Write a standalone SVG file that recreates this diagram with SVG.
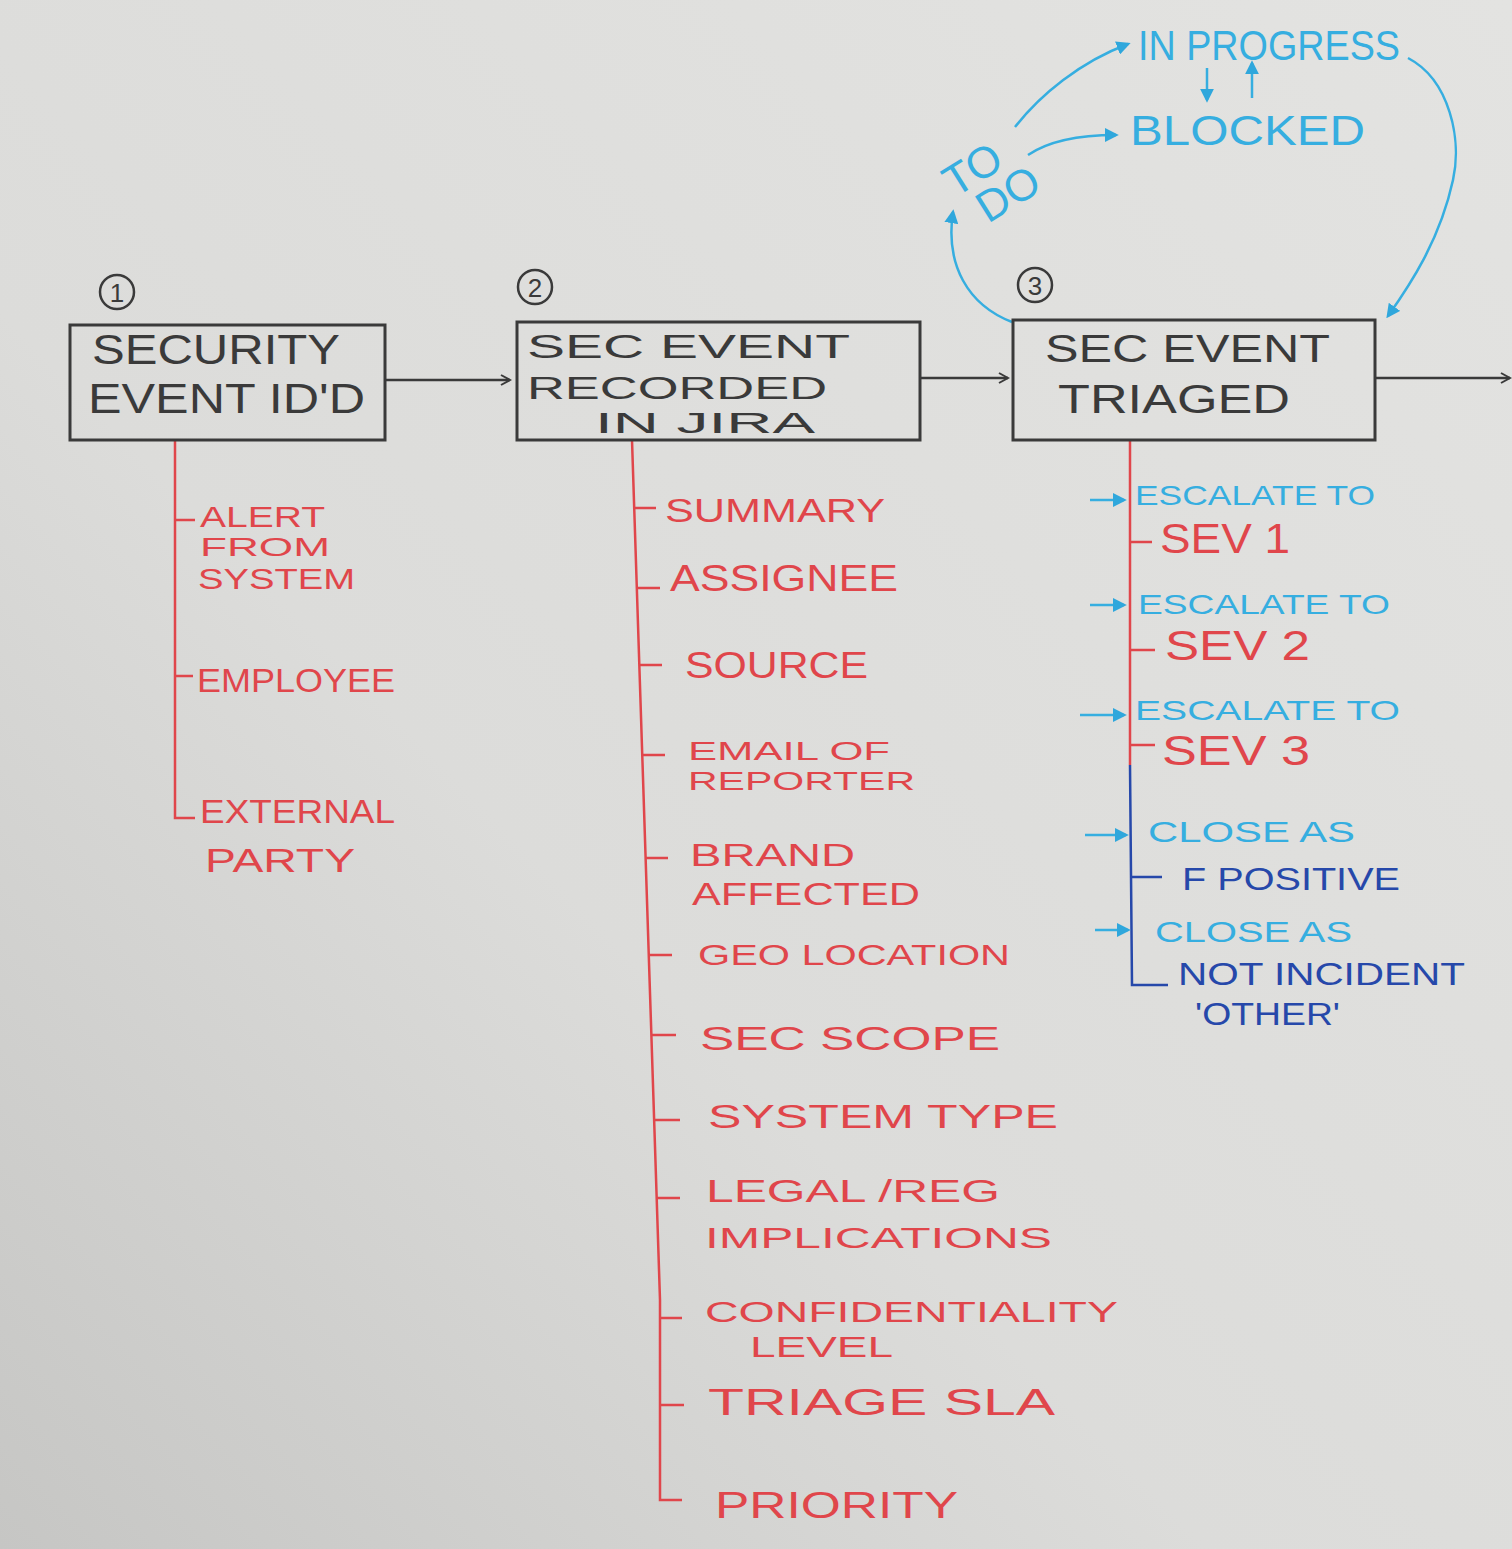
<svg xmlns="http://www.w3.org/2000/svg" width="1512" height="1549" viewBox="0 0 1512 1549">
<defs>
<linearGradient id="bg" x1="1" y1="0" x2="0" y2="1">
<stop offset="0" stop-color="#e3e3e1"/>
<stop offset="0.6" stop-color="#dcdcda"/>
<stop offset="1" stop-color="#c6c6c4"/>
</linearGradient>
<marker id="ab" viewBox="0 0 12 12" refX="10" refY="6" markerWidth="12" markerHeight="12" markerUnits="userSpaceOnUse" orient="auto">
<path d="M1,1 L10,6 L1,11" fill="none" stroke="#3a3a3a" stroke-width="2"/>
</marker>
<marker id="al" viewBox="0 0 10 10" refX="8" refY="5" markerWidth="14" markerHeight="14" markerUnits="userSpaceOnUse" orient="auto">
<path d="M0,0 L10,5 L0,10 Z" fill="#2fa7dc"/>
</marker>
</defs>
<style>
.t{font-family:"Liberation Sans","DejaVu Sans",sans-serif}
.k{fill:#3a3a3a}
.r{fill:#e0464b}
.lb{fill:#36aee0}
.db{fill:#2648aa}
.box{fill:none;stroke:#3a3a3a;stroke-width:3}
.ln{fill:none;stroke:#3a3a3a;stroke-width:2.5}
.rl{fill:none;stroke:#e0464b;stroke-width:2.5}
.bl{fill:none;stroke:#2648aa;stroke-width:2.5}
.cl{fill:none;stroke:#36aee0;stroke-width:2.5}
.num{fill:none;stroke:#3a3a3a;stroke-width:2.5}
</style>
<rect width="1512" height="1549" fill="url(#bg)"/>

<g id="connectors">
<line class="ln" x1="385" y1="380" x2="510" y2="380" marker-end="url(#ab)"/>
<line class="ln" x1="920" y1="378" x2="1008" y2="378" marker-end="url(#ab)"/>
<line class="ln" x1="1375" y1="378" x2="1510" y2="378" marker-end="url(#ab)"/>
<path class="cl" d="M1015,127 C1040,95 1080,62 1128,44" marker-end="url(#al)"/>
<path class="cl" d="M1028,155 C1050,140 1080,135 1116,135" marker-end="url(#al)"/>
<path class="cl" d="M1207,68 L1207,100" marker-end="url(#al)"/>
<path class="cl" d="M1252,98 L1252,63" marker-end="url(#al)"/>
<path class="cl" d="M1408,58 C1450,80 1462,140 1453,180 C1440,240 1410,285 1388,316" marker-end="url(#al)"/>
<path class="cl" d="M1012,322 C968,305 945,265 953,212" marker-end="url(#al)"/>
<path class="rl" d="M175,440 L175,818 L195,818 M175,520 L195,520 M175,676 L193,676"/>
<path class="rl" d="M632,440 L660,1300 L660,1500 L682,1500 M634,508 L656,508 M637,588 L660,588 M639,665 L662,665 M642,755 L665,755 M646,858 L668,858 M649,955 L672,955 M651,1035 L676,1035 M654,1120 L680,1120 M657,1198 L680,1198 M660,1318 L682,1318 M660,1405 L684,1405"/>
<path class="rl" d="M1130,440 L1130,765 M1130,542 L1152,542 M1130,650 L1155,650 M1130,745 L1155,745"/>
<path class="bl" d="M1130,765 L1132,985 L1168,985 M1132,877 L1162,877"/>
<line class="cl" x1="1090" y1="500" x2="1124" y2="500" marker-end="url(#al)"/>
<line class="cl" x1="1090" y1="605" x2="1124" y2="605" marker-end="url(#al)"/>
<line class="cl" x1="1080" y1="715" x2="1124" y2="715" marker-end="url(#al)"/>
<line class="cl" x1="1085" y1="835" x2="1126" y2="835" marker-end="url(#al)"/>
<line class="cl" x1="1095" y1="930" x2="1128" y2="930" marker-end="url(#al)"/>
</g>

<g id="node1">
<circle class="num" cx="117" cy="292" r="17"/>
<text class="t k" x="117" y="302" font-size="26" text-anchor="middle">1</text>
<rect class="box" x="70" y="325" width="315" height="115"/>
<text class="t k" x="92" y="364" font-size="42" textLength="248" lengthAdjust="spacingAndGlyphs">SECURITY</text>
<text class="t k" x="88" y="413" font-size="42" textLength="277" lengthAdjust="spacingAndGlyphs">EVENT ID'D</text>
</g>
<g id="node2">
<circle class="num" cx="535" cy="287" r="17"/>
<text class="t k" x="535" y="297" font-size="26" text-anchor="middle">2</text>
<rect class="box" x="517" y="322" width="403" height="118"/>
<text class="t k" x="527" y="358" font-size="34" textLength="323" lengthAdjust="spacingAndGlyphs">SEC EVENT</text>
<text class="t k" x="527" y="399" font-size="32" textLength="300" lengthAdjust="spacingAndGlyphs">RECORDED</text>
<text class="t k" x="595" y="433" font-size="30" textLength="220" lengthAdjust="spacingAndGlyphs">IN JIRA</text>
</g>
<g id="node3">
<circle class="num" cx="1035" cy="285" r="17"/>
<text class="t k" x="1035" y="295" font-size="26" text-anchor="middle">3</text>
<rect class="box" x="1013" y="320" width="362" height="120"/>
<text class="t k" x="1045" y="362" font-size="38" textLength="285" lengthAdjust="spacingAndGlyphs">SEC EVENT</text>
<text class="t k" x="1058" y="413" font-size="40" textLength="232" lengthAdjust="spacingAndGlyphs">TRIAGED</text>
</g>

<g id="workflow">
<text class="t lb" x="1138" y="60" font-size="42" textLength="262" lengthAdjust="spacingAndGlyphs">IN PROGRESS</text>
<text class="t lb" x="1130" y="145" font-size="42" textLength="235" lengthAdjust="spacingAndGlyphs">BLOCKED</text>
<text class="t lb" font-size="44" transform="translate(955,198) rotate(-32)">TO</text>
<text class="t lb" font-size="44" transform="translate(988,224) rotate(-32)">DO</text>
</g>

<g id="tree1">
<text class="t r" x="200" y="527" font-size="30" textLength="125" lengthAdjust="spacingAndGlyphs">ALERT</text>
<text class="t r" x="200" y="556" font-size="26" textLength="130" lengthAdjust="spacingAndGlyphs">FROM</text>
<text class="t r" x="198" y="589" font-size="30" textLength="157" lengthAdjust="spacingAndGlyphs">SYSTEM</text>
<text class="t r" x="197" y="692" font-size="34" textLength="198" lengthAdjust="spacingAndGlyphs">EMPLOYEE</text>
<text class="t r" x="200" y="823" font-size="34" textLength="195" lengthAdjust="spacingAndGlyphs">EXTERNAL</text>
<text class="t r" x="205" y="872" font-size="34" textLength="150" lengthAdjust="spacingAndGlyphs">PARTY</text>
</g>

<g id="tree2">
<text class="t r" x="665" y="522" font-size="34" textLength="220" lengthAdjust="spacingAndGlyphs">SUMMARY</text>
<text class="t r" x="670" y="591" font-size="36" textLength="228" lengthAdjust="spacingAndGlyphs">ASSIGNEE</text>
<text class="t r" x="685" y="678" font-size="36" textLength="183" lengthAdjust="spacingAndGlyphs">SOURCE</text>
<text class="t r" x="688" y="760" font-size="26" textLength="202" lengthAdjust="spacingAndGlyphs">EMAIL OF</text>
<text class="t r" x="688" y="790" font-size="26" textLength="227" lengthAdjust="spacingAndGlyphs">REPORTER</text>
<text class="t r" x="690" y="866" font-size="32" textLength="165" lengthAdjust="spacingAndGlyphs">BRAND</text>
<text class="t r" x="692" y="905" font-size="32" textLength="228" lengthAdjust="spacingAndGlyphs">AFFECTED</text>
<text class="t r" x="698" y="965" font-size="30" textLength="312" lengthAdjust="spacingAndGlyphs">GEO LOCATION</text>
<text class="t r" x="700" y="1050" font-size="34" textLength="300" lengthAdjust="spacingAndGlyphs">SEC SCOPE</text>
<text class="t r" x="708" y="1128" font-size="34" textLength="350" lengthAdjust="spacingAndGlyphs">SYSTEM TYPE</text>
<text class="t r" x="706" y="1202" font-size="32" textLength="294" lengthAdjust="spacingAndGlyphs">LEGAL /REG</text>
<text class="t r" x="705" y="1248" font-size="30" textLength="347" lengthAdjust="spacingAndGlyphs">IMPLICATIONS</text>
<text class="t r" x="705" y="1322" font-size="30" textLength="413" lengthAdjust="spacingAndGlyphs">CONFIDENTIALITY</text>
<text class="t r" x="750" y="1357" font-size="30" textLength="143" lengthAdjust="spacingAndGlyphs">LEVEL</text>
<text class="t r" x="708" y="1415" font-size="36" textLength="347" lengthAdjust="spacingAndGlyphs">TRIAGE SLA</text>
<text class="t r" x="715" y="1518" font-size="36" textLength="243" lengthAdjust="spacingAndGlyphs">PRIORITY</text>
</g>

<g id="tree3">
<text class="t lb" x="1135" y="505" font-size="28" textLength="240" lengthAdjust="spacingAndGlyphs">ESCALATE TO</text>
<text class="t r" x="1160" y="553" font-size="42" textLength="130" lengthAdjust="spacingAndGlyphs">SEV 1</text>
<text class="t lb" x="1138" y="614" font-size="28" textLength="252" lengthAdjust="spacingAndGlyphs">ESCALATE TO</text>
<text class="t r" x="1165" y="660" font-size="42" textLength="145" lengthAdjust="spacingAndGlyphs">SEV 2</text>
<text class="t lb" x="1135" y="720" font-size="28" textLength="265" lengthAdjust="spacingAndGlyphs">ESCALATE TO</text>
<text class="t r" x="1162" y="765" font-size="42" textLength="148" lengthAdjust="spacingAndGlyphs">SEV 3</text>
<text class="t lb" x="1148" y="842" font-size="30" textLength="207" lengthAdjust="spacingAndGlyphs">CLOSE AS</text>
<text class="t db" x="1182" y="890" font-size="32" textLength="218" lengthAdjust="spacingAndGlyphs">F POSITIVE</text>
<text class="t lb" x="1155" y="942" font-size="30" textLength="197" lengthAdjust="spacingAndGlyphs">CLOSE AS</text>
<text class="t db" x="1178" y="985" font-size="32" textLength="287" lengthAdjust="spacingAndGlyphs">NOT INCIDENT</text>
<text class="t db" x="1195" y="1025" font-size="32" textLength="145" lengthAdjust="spacingAndGlyphs">'OTHER'</text>
</g>
</svg>
